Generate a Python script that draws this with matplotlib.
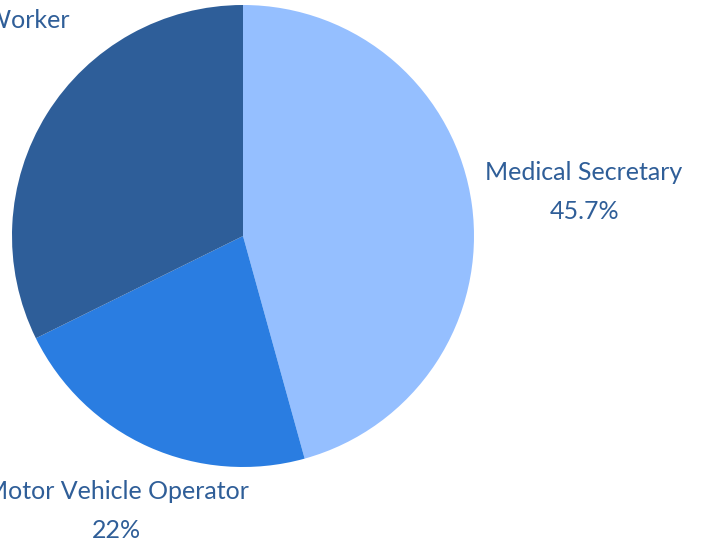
import matplotlib
matplotlib.use("Agg")
import matplotlib.pyplot as plt
import numpy as np

categories = ["Medical Secretary", "Motor Vehicle Operator", "Community Health Worker"]
values = [45.7, 22.0, 32.3]
value_labels = ["45.7%", "22%", "32.3%"]
colors = ["#95BFFF", "#2A7DE1", "#2E5E99"]
text_color = "#2F5E98"
label_dist = [1.49, 1.34, 1.64]
label_nudge_px = [-10, 0, -11]

W, H = 703, 542
fig = plt.figure(figsize=(W / 100, H / 100), dpi=100)
cx, cy, r = 243, 236, 231
ax = fig.add_axes([(cx - r) / W, (H - cy - r) / H, 2 * r / W, 2 * r / H])
ax.axis("off")

wedges, _ = ax.pie(values, colors=colors, startangle=90, counterclock=False,
                   radius=1, wedgeprops=dict(linewidth=0))
ax.set_xlim(-1, 1)
ax.set_ylim(-1, 1)
ax.set_aspect("equal")

half_gap = 19.5 / r
fs = 18
for w, name, vl, d, nud in zip(wedges, categories, value_labels, label_dist, label_nudge_px):
    ang = np.deg2rad((w.theta1 + w.theta2) / 2)
    x, y = d * np.cos(ang), d * np.sin(ang) + nud / r
    ax.text(x, y + half_gap, name, ha="center", va="baseline", fontsize=fs,
            color=text_color, family="Lato", clip_on=False)
    ax.text(x, y - half_gap, vl, ha="center", va="baseline", fontsize=fs,
            color=text_color, family="Lato", clip_on=False)

fig.savefig("out.png", dpi=100)
